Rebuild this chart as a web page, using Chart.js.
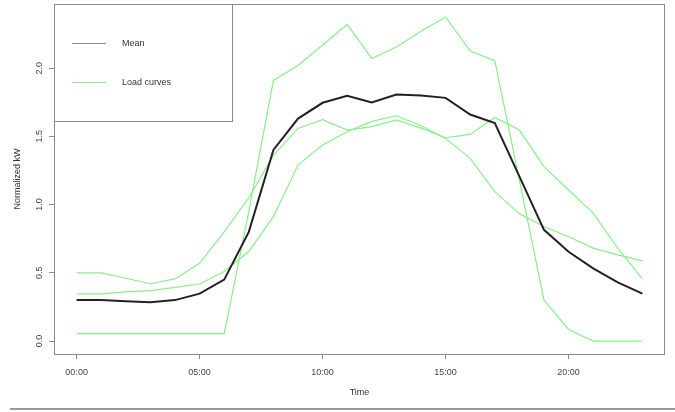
<!DOCTYPE html>
<html>
<head>
<meta charset="utf-8">
<script src="https://cdn.jsdelivr.net/npm/chart.js@4"></script>
<style>
  html, body { margin: 0; padding: 0; background: #fff; }
  #wrap { width: 675px; height: 412px; }
</style>
</head>
<body>
<div id="wrap"><canvas id="lineChart" width="675" height="412"></canvas></div>
<script>
// hours of the day
var hours = [0, 1, 2, 3, 4, 5, 6, 7, 8, 9, 10, 11, 12, 13, 14, 15, 16, 17, 18, 19, 20, 21, 22, 23];

// normalized load, one array per curve
var curveA = [0.055, 0.055, 0.055, 0.055, 0.055, 0.055, 0.055, 0.95, 1.91, 2.02, 2.17, 2.32,
              2.07, 2.155, 2.27, 2.375, 2.125, 2.055, 1.18, 0.30, 0.085, 0.0, 0.0, 0.0];
var curveB = [0.50, 0.50, 0.46, 0.42, 0.455, 0.57, 0.80, 1.05, 1.36, 1.558, 1.622, 1.546,
              1.571, 1.62, 1.56, 1.49, 1.514, 1.639, 1.546, 1.278, 1.107, 0.937, 0.68, 0.455];
var curveC = [0.345, 0.345, 0.36, 0.37, 0.393, 0.418, 0.51, 0.656, 0.912, 1.29, 1.436, 1.534,
              1.61, 1.651, 1.578, 1.485, 1.339, 1.095, 0.932, 0.839, 0.764, 0.681, 0.632, 0.588];
var meanKw = [0.30, 0.30, 0.292, 0.285, 0.30, 0.347, 0.45, 0.80, 1.40, 1.63, 1.746, 1.797,
              1.748, 1.807, 1.80, 1.782, 1.66, 1.597, 1.207, 0.815, 0.654, 0.532, 0.43, 0.347];

var xTicks = [0, 5, 10, 15, 20];
var xTickLabels = ["00:00", "05:00", "10:00", "15:00", "20:00"];
var yTicks = [0, 0.5, 1.0, 1.5, 2.0];
var legendLabels = ["Mean", "Load curves"];

var FONT = "'Liberation Sans', Arial, sans-serif";
var GREEN = "rgb(136,240,136)";

function pts(values) {
	return hours.map(function (h, i) { return { x: h, y: values[i] }; });
}

// box around the plot + separator line at the bottom
var frame = {
	id: "frame",
	afterDraw: function (chart) {
		var c = chart.ctx, a = chart.chartArea;
		c.save();
		c.strokeStyle = "#8a8a8a";
		c.lineWidth = 1;
		c.strokeRect(Math.round(a.left) + 0.5, Math.round(a.top) + 0.5,
			Math.round(a.right - a.left) - 1, Math.round(a.bottom - a.top));
		c.strokeStyle = "#777";
		c.lineWidth = 1.5;
		c.beginPath();
		c.moveTo(10, 409);
		c.lineTo(675, 409);
		c.stroke();
		c.restore();
	}
};

// legend in the top left corner, with its own box
var boxLegend = {
	id: "boxLegend",
	afterDraw: function (chart) {
		var c = chart.ctx, a = chart.chartArea;
		var x0 = Math.round(a.left) + 0.5, y0 = Math.round(a.top) + 0.5;
		c.save();
		c.fillStyle = "#fff";
		c.fillRect(x0, y0, 178, 117);
		c.strokeStyle = "#8a8a8a";
		c.lineWidth = 1;
		c.strokeRect(x0, y0, 178, 117);
		var colors = ["#8c8c8c", GREEN];
		var rows = [43.5, 82.5];
		c.font = "9px " + FONT;
		c.textBaseline = "middle";
		c.fillStyle = "#333";
		for (var i = 0; i < legendLabels.length; i++) {
			c.strokeStyle = colors[i];
			c.lineWidth = 1.2;
			c.beginPath();
			c.moveTo(72, rows[i]);
			c.lineTo(106, rows[i]);
			c.stroke();
			c.fillText(legendLabels[i], 122, rows[i]);
		}
		c.restore();
	}
};

var ctx = document.getElementById("lineChart");

var data = {
	datasets: [{
			label: "Mean",
			data: pts(meanKw),
			borderColor: "#222",
			borderWidth: 2,
			fill: false,
			tension: 0,
			pointRadius: 0
		},
		{
			label: "Load curves",
			data: pts(curveA),
			borderColor: GREEN,
			borderWidth: 1.2,
			fill: false,
			tension: 0,
			pointRadius: 0
		},
		{
			label: "Load curves",
			data: pts(curveB),
			borderColor: GREEN,
			borderWidth: 1.2,
			fill: false,
			tension: 0,
			pointRadius: 0
		},
		{
			label: "Load curves",
			data: pts(curveC),
			borderColor: GREEN,
			borderWidth: 1.2,
			fill: false,
			tension: 0,
			pointRadius: 0
		}
	]
};

var options = {
	responsive: false,
	animation: false,
	layout: { padding: { top: 4, right: 10, left: 0, bottom: 0 } },
	plugins: {
		legend: { display: false },
		tooltip: { enabled: false }
	},
	scales: {
		x: {
			type: "linear",
			min: -0.92,
			max: 23.92,
			afterBuildTicks: function (s) {
				s.ticks = xTicks.map(function (v) { return { value: v }; });
			},
			afterFit: function (s) {
				s.height = 58;
				s.paddingLeft = 0;
				s.paddingRight = 0;
			},
			ticks: {
				callback: function (v) { return xTickLabels[xTicks.indexOf(v)]; },
				font: { family: FONT, size: 9 },
				color: "#444",
				padding: 8,
				maxRotation: 0
			},
			grid: { drawOnChartArea: false, tickLength: 5, color: "#8a8a8a" },
			border: { display: false },
			title: {
				display: true,
				text: "Time",
				font: { family: FONT, size: 9 },
				color: "#333",
				padding: { top: 0, bottom: 14 }
			}
		},
		y: {
			min: -0.095,
			max: 2.47,
			afterBuildTicks: function (s) {
				s.ticks = yTicks.map(function (v) { return { value: v }; });
			},
			afterFit: function (s) {
				s.width = 54;
				s.paddingTop = 0;
				s.paddingBottom = 0;
			},
			ticks: {
				callback: function (v) { return v.toFixed(1); },
				font: { family: FONT, size: 9 },
				color: "#444",
				minRotation: 90,
				maxRotation: 90,
				crossAlign: "center",
				padding: 3
			},
			grid: { drawOnChartArea: false, tickLength: 5, color: "#8a8a8a" },
			border: { display: false },
			title: {
				display: true,
				text: "Normalized kW",
				font: { family: FONT, size: 9 },
				color: "#333",
				padding: { top: 12, bottom: 0 }
			}
		}
	}
};

var chart = new Chart(ctx, {
	type: "line",
	data: data,
	options: options,
	plugins: [frame, boxLegend]
});
</script>
</body>
</html>
